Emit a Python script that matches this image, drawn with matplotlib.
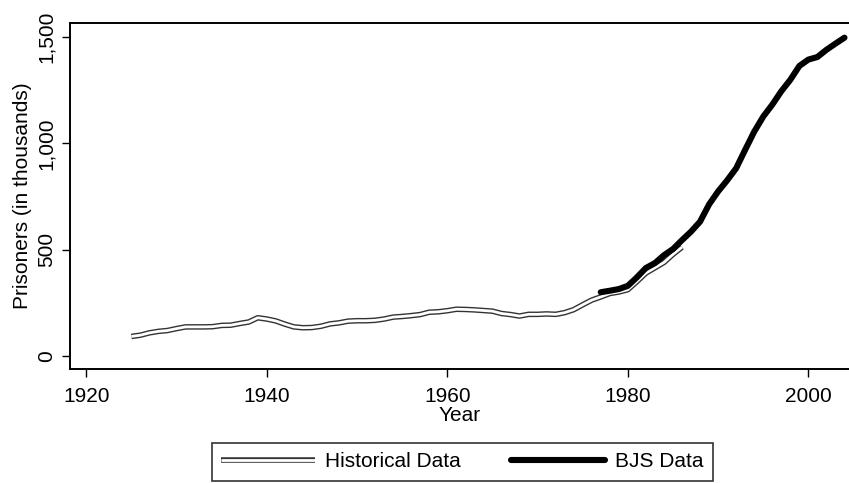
import matplotlib
matplotlib.use("Agg")
import matplotlib.pyplot as plt
import matplotlib.patheffects as pe
from matplotlib.ticker import FuncFormatter

plt.rcParams['font.family'] = ['Liberation Sans', 'DejaVu Sans']

# historical series (thousands of prisoners)
hist_years = list(range(1925, 1987))
hist_vals = [92, 98, 109, 116, 120, 129, 137, 137, 137, 138,
             144, 145, 153, 160, 180, 174, 165, 150, 137, 133,
             134, 140, 151, 156, 164, 166, 166, 168, 174, 183,
             186, 190, 195, 206, 208, 213, 220, 219, 217, 214,
             211, 200, 195, 188, 196, 196, 198, 196, 204, 218,
             241, 263, 278, 294, 301, 312, 350, 390, 415, 440,
             478, 512]

# BJS series
bjs_years = list(range(1977, 2005))
bjs_vals = [300, 307, 315, 330, 370, 414, 437, 474, 503, 545,
            585, 632, 713, 774, 826, 883, 970, 1055, 1126, 1182,
            1245, 1299, 1364, 1394, 1406, 1440, 1469, 1497]

y_ticks = [0, 500, 1000, 1500]
x_ticks = [1920, 1940, 1960, 1980, 2000]

W, H = 849, 483
fig = plt.figure(figsize=(W / 100, H / 100), dpi=100)
ax = fig.add_axes([70 / W, (H - 369) / H, 779 / W, 346 / H])

ax.plot(hist_years, hist_vals, color='white', lw=2.0, solid_capstyle='butt',
        label='Historical Data',
        path_effects=[pe.Stroke(linewidth=4.0, foreground='#333333'), pe.Normal()])
ax.plot(bjs_years, bjs_vals, color='black', lw=4.4, solid_capstyle='round',
        label='BJS Data')

ax.set_xlim(1918.2, 2004.5)
ax.set_ylim(-61, 1566)
ax.set_xticks(x_ticks)
ax.set_yticks(y_ticks)
ax.yaxis.set_major_formatter(FuncFormatter(lambda v, p: f"{int(v):,}"))

for s in ['left', 'bottom', 'top']:
    ax.spines[s].set_linewidth(1.4)
ax.spines['right'].set_visible(False)

ax.tick_params(axis='both', direction='out', length=6, width=1, labelsize=15)
ax.tick_params(axis='x', pad=7)
ax.tick_params(axis='y', pad=4)
for lab in ax.get_yticklabels():
    lab.set_rotation(90)
    lab.set_va('center')

ax.set_xlabel('Year', fontsize=15, labelpad=0)
ax.set_ylabel('Prisoners (in thousands)', fontsize=15, labelpad=4)

leg = fig.legend(loc='upper center', bbox_to_anchor=(462.5 / W, 1 - 443 / H),
                 ncol=2, fontsize=15, frameon=True, fancybox=False,
                 edgecolor='black', handlelength=4.5, handletextpad=0.5,
                 columnspacing=2.4, borderpad=0.45, borderaxespad=0)
leg.get_frame().set_linewidth(1.2)

fig.savefig('out.png', dpi=100)
